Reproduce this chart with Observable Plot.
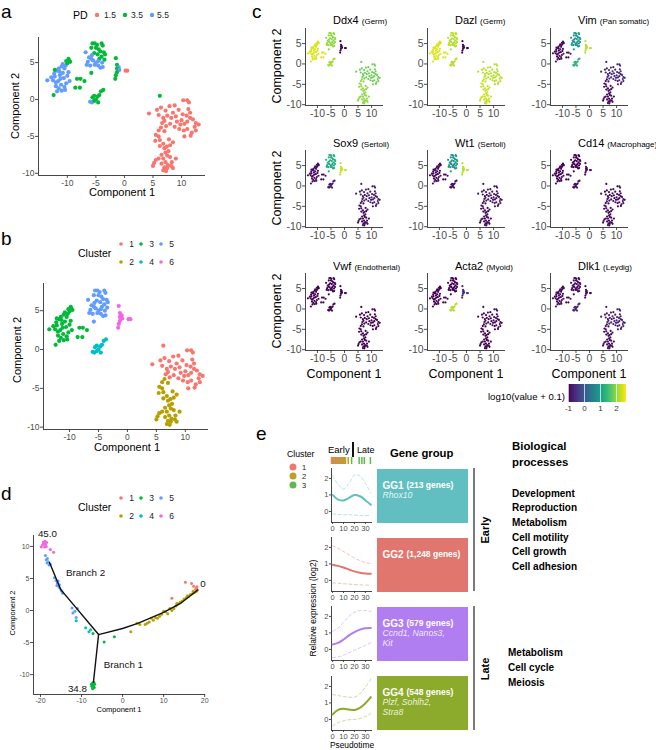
<!DOCTYPE html>
<html><head><meta charset="utf-8">
<script src="https://cdn.jsdelivr.net/npm/d3@7"></script>
<script src="https://cdn.jsdelivr.net/npm/@observablehq/plot@0.6"></script>
<style>
body{margin:0;background:#fff}
#fig{position:relative;width:656px;height:750px;overflow:hidden;font-family:"Liberation Sans",Arial,Helvetica,sans-serif;background:#fff}
</style></head>
<body><div id="fig"></div>
<script>
// ---------------- DATA ----------------
const pdLevels = [1.5, 3.5, 5.5];
const pdColors = ["#F8766D", "#00BA38", "#619CFF"];
const clusterIds = [1, 2, 3, 4, 5, 6];
const clusterColors = ["#F8766D", "#B79F00", "#00BA38", "#00BFC4", "#619CFF", "#F564E3"];

// tSNE cells per cluster: [component1, component2, PD]
const tsneC1 = [[4.3,-1.9,1.5],[5.7,-1.4,1.5],[6.4,-1.1,1.5],[7.2,-1.5,1.5],[7.9,-0.9,1.5],[8.8,-0.8,1.5],[10.3,-0.1,1.5],[11.0,-0.1,1.5],[11.3,-0.4,1.5],[6.0,-2.1,1.5],[6.8,-2.5,1.5],[7.5,-2.2,1.5],[8.5,-1.8,1.5],[9.5,-1.4,1.5],[10.2,-2.0,1.5],[10.0,-2.8,1.5],[9.2,-3.0,1.5],[8.0,-3.3,1.5],[7.3,-3.6,1.5],[6.6,-3.2,1.5],[8.8,-3.7,1.5],[9.8,-3.4,1.5],[10.5,-3.3,1.5],[11.0,-3.0,1.5],[11.5,-2.5,1.5],[12.0,-2.7,1.5],[12.5,-3.2,1.5],[13.0,-3.4,1.5],[11.2,-1.3,1.5],[11.5,-1.8,1.5],[12.3,-3.7,1.5],[11.0,-4.0,1.5],[10.4,-4.2,1.5],[11.8,-4.5,1.5],[12.5,-4.2,1.5],[9.6,-4.0,1.5],[10.5,-5.0,1.5],[11.6,-4.9,1.5],[10.9,-2.2,1.5],[9.0,-2.3,1.5],[7.0,-2.9,1.5],[8.2,-2.5,1.5],[6.2,0.5,3.5]];
const tsneC2 = [[6.0,-4.2,1.5],[6.4,-3.8,1.5],[5.5,-4.8,1.5],[7.0,-4.3,1.5],[6.0,-5.0,1.5],[5.4,-5.6,1.5],[6.2,-5.5,1.5],[6.8,-6.0,1.5],[7.0,-6.6,1.5],[7.4,-6.4,1.5],[8.0,-6.2,1.5],[8.5,-5.8,1.5],[7.7,-7.0,1.5],[7.2,-7.2,1.5],[6.5,-7.5,1.5],[7.5,-7.6,1.5],[8.0,-7.8,1.5],[6.8,-8.0,1.5],[5.5,-8.2,1.5],[5.2,-8.6,1.5],[5.0,-9.0,1.5],[6.5,-8.7,1.5],[7.2,-8.5,1.5],[8.3,-8.5,1.5],[7.0,-9.2,1.5],[6.8,-9.6,1.5],[7.5,-9.3,1.5],[8.2,-9.0,1.5],[8.5,-9.3,1.5],[9.0,-8.0,1.5],[6.2,-6.3,1.5],[7.8,-5.4,1.5],[7.6,-8.9,1.5],[6.0,-8.0,1.5],[7.3,-9.7,1.5]];
const tsneC3 = [[-13.5,2.6,5.5],[-12.8,3.0,5.5],[-12.3,3.5,5.5],[-12.0,2.3,5.5],[-11.8,3.9,5.5],[-11.5,4.2,5.5],[-11.3,3.3,5.5],[-11.0,4.5,5.5],[-10.8,4.8,5.5],[-10.5,4.2,5.5],[-11.2,2.8,5.5],[-12.0,1.8,5.5],[-11.5,1.5,5.5],[-11.0,1.2,5.5],[-10.5,1.7,5.5],[-11.8,1.1,5.5],[-10.2,2.2,5.5],[-9.6,2.5,5.5],[-10.8,3.6,5.5],[-11.6,2.5,5.5],[-12.5,2.6,5.5],[-10.0,3.2,5.5],[-10.6,2.9,5.5],[-12.2,3.1,5.5],[-11.1,2.0,5.5],[-9.8,3.7,5.5],[-10.4,1.3,5.5],[-11.4,3.8,5.5],[-10.3,4.6,5.5],[-10.2,5.2,3.5],[-9.8,5.5,3.5],[-9.5,5.1,3.5],[-10.0,4.9,3.5],[-9.7,5.3,3.5],[-12.2,4.0,3.5],[-12.4,0.6,3.5],[-8.3,2.8,3.5],[-7.7,2.8,3.5],[-7.0,2.5,3.5],[-8.6,1.6,3.5],[-7.8,1.6,3.5]];
const tsneC4 = [[-6.0,-0.3,5.5],[-5.7,-0.4,5.5],[-5.3,-0.2,3.5],[-5.0,0.0,3.5],[-4.7,0.4,3.5],[-5.6,0.3,3.5],[-4.4,0.6,3.5],[-4.1,1.1,3.5],[-3.7,1.3,3.5],[-4.6,-0.4,3.5],[-5.3,0.5,3.5]];
const tsneC5 = [[-5.6,7.6,3.5],[-5.2,7.6,3.5],[-4.8,7.4,3.5],[-4.0,7.6,3.5],[-3.8,7.3,3.5],[-5.8,7.0,3.5],[-5.0,7.0,3.5],[-4.5,6.8,3.5],[-4.2,6.5,3.5],[-3.6,6.4,3.5],[-3.4,6.1,3.5],[-4.0,5.8,3.5],[-5.3,6.3,3.5],[-4.7,6.1,3.5],[-5.8,3.6,3.5],[-4.4,5.5,3.5],[-3.5,5.4,3.5],[-6.8,6.4,5.5],[-6.2,5.7,5.5],[-5.8,5.5,5.5],[-6.4,5.1,5.5],[-5.5,5.3,5.5],[-5.0,5.0,5.5],[-6.6,4.7,5.5],[-6.0,4.6,5.5],[-4.6,4.6,5.5],[-4.2,4.3,5.5],[-3.8,4.4,5.5],[-5.2,4.7,5.5],[-3.9,5.0,5.5],[-4.6,5.2,5.5],[-5.7,6.0,5.5]];
const tsneC6 = [[-1.5,5.6,3.5],[-1.3,4.7,3.5],[-1.0,4.4,5.5],[-1.3,4.2,3.5],[-0.9,4.0,5.5],[-1.3,3.7,3.5],[-1.5,3.3,3.5],[-1.6,2.8,3.5],[0.5,3.9,1.5],[0.2,3.9,1.5]];

// panel c: marker genes, expression (log10(value+0.1)) by cluster 1..6
const geneNames = ["Ddx4", "Dazl", "Vim", "Sox9", "Wt1", "Cd14", "Vwf", "Acta2", "Dlk1"];
const geneRoles = ["(Germ)", "(Germ)", "(Pan somatic)", "(Sertoli)", "(Sertoli)", "(Macrophage)", "(Endotherial)", "(Myoid)", "(Leydig)"];
const exprDdx4  = [1.8, 2.0, 2.4, 2.1, 2.0, -1.0];
const exprDazl  = [2.2, 2.3, 2.4, 2.2, 2.2, -1.0];
const exprVim   = [-0.6, -0.9, -0.9, 1.3, 0.9, 2.2];
const exprSox9  = [-0.7, -0.9, -0.9, -0.8, 1.2, 2.3];
const exprWt1   = [-0.8, -0.9, -0.9, -0.9, 0.9, 2.2];
const exprCd14  = [-0.9, -0.9, -1.0, -0.9, -1.0, -0.9];
const exprVwf   = [-1.0, -1.0, -1.0, -1.0, -1.0, -1.0];
const exprActa2 = [-0.9, -1.0, -1.0, 2.2, -1.0, -0.6];
const exprDlk1  = [-0.7, -0.9, -0.9, -0.6, -0.9, -0.9];
const exprDomain = [-1, 2.6];
const exprTicks = [-1, 0, 1, 2];

// panel d: trajectory cells per cluster [component1, component2]
const trajC1 = [[15.3,4.4],[16.8,4.2],[17.3,3.8],[12.0,1.9],[18.0,3.5],[18.2,3.2],[17.8,3.3],[18.1,3.7],[17.9,3.0]];
const trajC2 = [[2.0,-3.3],[3.5,-2.0],[4.2,-2.2],[5.5,-2.2],[6.0,-2.0],[6.5,-1.8],[7.0,-1.2],[7.5,-1.5],[8.0,-1.1],[8.5,-1.2],[9.0,-0.9],[9.5,-0.6],[10.0,-0.1],[10.5,-0.2],[11.0,-0.5],[11.5,0.3],[12.0,0.0],[12.5,0.3],[13.0,0.7],[13.2,1.1],[13.5,1.0],[14.0,1.3],[14.5,1.5],[15.0,1.8],[15.5,2.0],[15.8,2.3],[16.0,2.2],[16.5,2.5],[17.0,2.6],[17.2,3.0],[17.5,2.8],[18.0,3.0]];
const trajC3 = [[-7.2,-3.6],[-4.5,-4.9],[-2.0,-4.1],[-7.3,-11.3],[-7.1,-11.6],[-7.5,-11.8],[-6.9,-12.0],[-7.3,-12.2],[-7.0,-11.2],[-7.6,-11.5],[-7.2,-11.9],[-6.8,-11.5]];
const trajC4 = [[-11.3,-1.6],[-9.0,-2.7],[-8.2,-3.3],[-7.8,-3.0]];
const trajC5 = [[-18.8,8.6],[-18.6,7.9],[-18.4,7.4],[-18.1,7.6],[-17.9,7.1],[-18.3,8.1],[-17.6,7.2],[-16.6,5.1],[-16.2,4.7],[-15.9,4.3],[-15.6,3.8],[-15.3,3.5],[-15.0,3.2],[-15.7,4.6],[-14.8,3.0],[-15.4,4.0],[-14.6,2.7],[-16.0,3.9],[-12.3,0.4],[-11.6,-0.1],[-12.1,-0.4],[-11.0,0.3],[-11.3,-1.1]];
const trajC6 = [[-19.5,10.2],[-19.2,10.5],[-18.8,10.3],[-19.0,9.9],[-18.6,10.0],[-19.8,9.9],[-18.5,10.6],[-17.6,9.5],[-16.8,9.1],[-19.3,10.7],[-18.9,10.8]];
const trunkPath = [[-5.85,-3.75],[0,-2.8],[3.7,-2.0],[10,-0.3],[14.1,1.1],[18.3,3.2]];
const branch1Path = [[-5.85,-3.75],[-7.1,-11.2]];
const branch2Path = [[-17.8,7.5],[-15.1,3.3],[-5.85,-3.75]];
const trajLabels = [
  {label: "45.0", x: -18.3, y: 11.9},
  {label: "0", x: 19.6, y: 4.2},
  {label: "34.8", x: -11.0, y: -12.2},
  {label: "Branch 2", x: -9.0, y: 5.8},
  {label: "Branch 1", x: 0.2, y: -8.4}
];

// panel e
const eClusterIds = [1, 2, 3];
const eClusterColors = ["#EC7A72", "#BBA12A", "#5DBB4C"];
const rugTimes    = [-1,-0.3,0.4,1.1,1.8,2.5,3.2,3.9,4.6,5.3,6.0,6.7,7.4,8.1,8.8,9.5,10.2,10.9,11.8,14.3,17.4,24.3,26.8,29.0,34.6];
const rugClusters = [1,2,1,2,2,1,2,2,1,2,2,1,2,2,2,1,2,2,2,2,3,3,3,3,3];
const pseudotime = [0, 5, 10, 15, 20, 25, 30, 35];
const gg1Mean  = [1.0, 0.72, 0.66, 0.82, 1.0, 0.92, 0.68, 0.4];
const gg1Upper = [2.15, 1.65, 1.35, 1.7, 2.2, 2.15, 1.7, 1.1];
const gg1Lower = [-0.15, -0.18, -0.2, -0.2, -0.22, -0.24, -0.25, -0.25];
const gg2Mean  = [0.95, 0.88, 0.78, 0.66, 0.55, 0.47, 0.42, 0.4];
const gg2Upper = [2.1, 1.95, 1.75, 1.55, 1.35, 1.2, 1.08, 1.02];
const gg2Lower = [-0.15, -0.17, -0.2, -0.22, -0.25, -0.27, -0.28, -0.3];
const gg3Mean  = [0.3, 0.4, 0.6, 0.85, 1.05, 1.2, 1.28, 1.3];
const gg3Upper = [1.1, 1.3, 1.65, 2.0, 2.25, 2.35, 2.35, 2.3];
const gg3Lower = [-0.5, -0.45, -0.35, -0.2, -0.05, 0.1, 0.25, 0.4];
const gg4Mean  = [0.3, 0.58, 0.65, 0.6, 0.57, 0.7, 0.98, 1.35];
const gg4Upper = [1.5, 1.45, 1.38, 1.35, 1.35, 1.55, 1.95, 2.45];
const gg4Lower = [-0.4, -0.2, -0.08, -0.02, 0.0, 0.05, 0.18, 0.35];
const groupNames  = ["GG1", "GG2", "GG3", "GG4"];
const groupCounts = ["(213 genes)", "(1,248 genes)", "(579 genes)", "(548 genes)"];
const groupGenes  = ["Rhox10", "", "Ccnd1, Nanos3,\nKit", "Plzf, Sohlh2,\nStra8"];
const groupColors = ["#62BFC1", "#E0766D", "#B07EF1", "#8CAA2C"];
const processesEarly = ["Development", "Reproduction", "Metabolism", "Cell motility", "Cell growth", "Cell adhesion"];
const processesLate = ["Metabolism", "Cell cycle", "Meiosis"];

// ---------------- HELPERS ----------------
const FONT = '"Liberation Sans", Arial, Helvetica, sans-serif';
const fig = document.getElementById("fig");
function put(node, left, top) {
  node.style.position = "absolute";
  node.style.left = left + "px";
  node.style.top = top + "px";
  fig.appendChild(node);
  return node;
}
function xyPlot({w, h, ml, mt, mr, mb, xDom, yDom, xTicks, yTicks, fs, tick = 3, color, marks}) {
  return Plot.plot({
    width: w, height: h, marginLeft: ml, marginTop: mt, marginRight: mr, marginBottom: mb,
    style: {fontFamily: FONT, fontSize: fs + "px", color: "#4d4d4d", background: "transparent", overflow: "visible"},
    x: {domain: xDom, ticks: xTicks, tickSize: tick, tickPadding: 1, tickFormat: d => String(d), label: null},
    y: {domain: yDom, ticks: yTicks, tickSize: tick, tickPadding: 1, tickFormat: d => String(d), label: null},
    color,
    marks: [
      Plot.ruleX([xDom[0]], {stroke: "#333", strokeWidth: 0.9}),
      Plot.ruleY([yDom[0]], {stroke: "#333", strokeWidth: 0.9}),
      ...marks
    ]
  });
}

const cells = [tsneC1, tsneC2, tsneC3, tsneC4, tsneC5, tsneC6]
  .flatMap((set, i) => set.map(([x, y, pd]) => ({x, y, pd, cluster: clusterIds[i]})));

// ---------------- PANEL a ----------------
put(xyPlot({
  w: 212, h: 170, ml: 38, mt: 7, mr: 7, mb: 25,
  xDom: [-15.05, 14.2], yDom: [-10.3, 8.4], xTicks: [-10, -5, 0, 5, 10], yTicks: [-10, -5, 0, 5], fs: 8.5,
  color: {type: "ordinal", domain: pdLevels, range: pdColors},
  marks: [Plot.dot(cells, {x: "x", y: "y", fill: "pd", r: 2.1, stroke: null})]
}), 0, 30);

// ---------------- PANEL b ----------------
put(xyPlot({
  w: 212, h: 175, ml: 43, mt: 13, mr: 4, mb: 16,
  xDom: [-14.5, 14.0], yDom: [-10.3, 8.5], xTicks: [-10, -5, 0, 5, 10], yTicks: [-10, -5, 0, 5], fs: 8.5,
  color: {type: "ordinal", domain: clusterIds, range: clusterColors},
  marks: [Plot.dot(cells, {x: "x", y: "y", fill: "cluster", r: 2.1, stroke: null})]
}), 0, 270);

// ---------------- PANEL c ----------------
const geneExprs = [exprDdx4, exprDazl, exprVim, exprSox9, exprWt1, exprCd14, exprVwf, exprActa2, exprDlk1];
const colX = [305, 427, 550];
const rowTop = [28, 150, 273];
geneNames.forEach((g, i) => {
  const col = i % 3, row = Math.floor(i / 3);
  const data = cells.map(c => ({x: c.x, y: c.y, e: geneExprs[i][c.cluster - 1]})).sort((a, b) => a.e - b.e);
  put(xyPlot({
    w: 120, h: 95, ml: 38, mt: 2, mr: 4, mb: 16,
    xDom: [-14.4, 14.4], yDom: [-10.2, 8.7], xTicks: [-10, -5, 0, 5, 10], yTicks: [-10, -5, 0, 5], fs: 10.4,
    color: {type: "linear", scheme: "viridis", domain: exprDomain},
    marks: [Plot.dot(data, {x: "x", y: "y", fill: "e", r: 1.1, stroke: null})]
  }), colX[col] - 38, rowTop[row] - 2);
});
const cbar = Plot.legend({
  color: {type: "linear", scheme: "viridis", domain: exprDomain},
  ticks: exprTicks, tickFormat: d => String(d), label: null,
  width: 60, height: 30, marginTop: 0, marginBottom: 12, marginLeft: 1, marginRight: 1, tickSize: 0,
  style: {fontFamily: FONT, fontSize: "8px", color: "#333", background: "transparent", overflow: "visible"}
});
put(cbar, 567, 384);
cbar.querySelectorAll(".tick line").forEach(l => { l.setAttribute("stroke", "#fff"); l.setAttribute("stroke-opacity", "0.7"); });

// ---------------- PANEL d ----------------
const trajCells = [trajC1, trajC2, trajC3, trajC4, trajC5, trajC6]
  .flatMap((set, i) => set.map(([x, y]) => ({x, y, cluster: clusterIds[i]})));
put(xyPlot({
  w: 212, h: 195, ml: 33, mt: 15, mr: 7, mb: 21,
  xDom: [-21.7, 20.2], yDom: [-13.1, 11.7], xTicks: [-20, -10, 0, 10, 20], yTicks: [-10, -5, 0, 5, 10], fs: 7,
  color: {type: "ordinal", domain: clusterIds, range: clusterColors},
  marks: [
    Plot.dot(trajCells, {x: "x", y: "y", fill: "cluster", r: 1.5, stroke: null}),
    ...[trunkPath, branch1Path, branch2Path].map(p => Plot.line(p, {x: d => d[0], y: d => d[1], stroke: "#111", strokeWidth: 1.4})),
    Plot.text(trajLabels, {x: "x", y: "y", text: "label", fontSize: 9.8, fill: "#111"})
  ]
}), 0, 520);

// ---------------- PANEL e ----------------
const ggMeans = [gg1Mean, gg2Mean, gg3Mean, gg4Mean];
const ggUppers = [gg1Upper, gg2Upper, gg3Upper, gg4Upper];
const ggLowers = [gg1Lower, gg2Lower, gg3Lower, gg4Lower];
const eRowTop = [468, 537, 606, 676];
groupNames.forEach((g, r) => {
  const rows = pseudotime.map((t, j) => ({t, m: ggMeans[r][j], u: ggUppers[r][j], l: ggLowers[r][j]}));
  const col = groupColors[r];
  put(xyPlot({
    w: 59, h: 72, ml: 14, mt: 4, mr: 4, mb: 14,
    xDom: [-1, 36.5], yDom: [-0.67, 2.6], xTicks: [0, 10, 20, 30], yTicks: [0, 1, 2], fs: 7.5, tick: 2,
    marks: [
      Plot.line(rows, {x: "t", y: "u", stroke: col, strokeOpacity: 0.45, strokeWidth: 1, strokeDasharray: "3,2.5", curve: "catmull-rom"}),
      Plot.line(rows, {x: "t", y: "l", stroke: col, strokeOpacity: 0.45, strokeWidth: 1, strokeDasharray: "3,2.5", curve: "catmull-rom"}),
      Plot.line(rows, {x: "t", y: "m", stroke: col, strokeWidth: 2, curve: "catmull-rom"})
    ]
  }), 317, eRowTop[r] - 4);
});
// rug of cells along pseudotime
const rugData = rugTimes.map((t, i) => ({t, c: rugClusters[i]}));
put(Plot.plot({
  width: 59, height: 7, marginLeft: 14, marginRight: 4, marginTop: 0, marginBottom: 0,
  style: {background: "transparent", overflow: "visible"},
  x: {domain: [-1, 36.5], axis: null},
  color: {type: "ordinal", domain: eClusterIds, range: eClusterColors},
  marks: [Plot.tickX(rugData, {x: "t", stroke: "c", strokeWidth: 1.5})]
}), 317, 457);
// gene group boxes
const groups = groupNames.map((n, i) => ({name: n, count: groupCounts[i], genes: groupGenes[i], color: groupColors[i]}));
put(Plot.plot({
  width: 91, height: 310, marginLeft: 0, marginRight: 0, marginTop: 20.5, marginBottom: 12.5,
  style: {fontFamily: FONT, background: "transparent", overflow: "visible"},
  y: {type: "band", domain: groupNames, paddingInner: 15 / 69, paddingOuter: 7.5 / 69, axis: null},
  color: {type: "identity"},
  marks: [
    Plot.cell(groups, {y: "name", fill: "color", inset: 0}),
    Plot.text(groups, {y: "name", text: "name", frameAnchor: "left", textAnchor: "start", dx: 5, dy: -11, fill: "white", fontWeight: "bold", fontSize: 10}),
    Plot.text(groups, {y: "name", text: "count", frameAnchor: "left", textAnchor: "start", dx: 29, dy: -11, fill: "white", fontWeight: "bold", fontSize: 8.5}),
    Plot.text(groups, {y: "name", text: "genes", frameAnchor: "left", textAnchor: "start", lineAnchor: "top", lineHeight: 1.15, dx: 5, dy: -5.5, fill: "white", fillOpacity: 0.85, fontStyle: "italic", fontSize: 8.7})
  ]
}), 377, 440);

// ---------------- TEXT OVERLAY ----------------
const ov = d3.create("svg").attr("width", 656).attr("height", 750)
  .style("position", "absolute").style("left", "0px").style("top", "0px").style("font-family", FONT).style("pointer-events", "none");
fig.appendChild(ov.node());
function T(str, x, y, o = {}) {
  const s = o.size || 10;
  const t = ov.append("text").attr("font-size", s).attr("fill", o.color || "#000").attr("text-anchor", o.anchor || "start");
  if (o.weight) t.attr("font-weight", o.weight);
  if (o.italic) t.attr("font-style", "italic");
  if (o.rotate) {
    const bx = x + 0.36 * s;
    t.attr("x", bx).attr("y", y).attr("transform", `rotate(-90 ${bx} ${y})`);
  } else {
    t.attr("x", x).attr("y", y + 0.36 * s);
  }
  t.text(str);
  return t;
}
function dot(x, y, r, c) { ov.append("circle").attr("cx", x).attr("cy", y).attr("r", r).attr("fill", c); }

// panel letters
T("a", 1, 11, {size: 19});
T("b", 1, 238, {size: 19});
T("c", 252, 11, {size: 19});
T("d", 1, 493, {size: 19});
T("e", 256, 433, {size: 19});

// panel a legend & titles
T("PD", 73, 15, {size: 10.6});
pdLevels.forEach((v, i) => { dot([97, 125, 152][i], 15, 2.2, pdColors[i]); T(String(v), [110, 137, 163][i], 15, {size: 8.5, anchor: "middle", color: "#222"}); });
T("Component 1", 122, 192, {size: 11, anchor: "middle"});
T("Component 2", 15, 106, {size: 11, anchor: "middle", rotate: true});

// cluster legends (b, d)
function clusterLegend(y0) {
  T("Cluster", 78, y0 + 9, {size: 10.5});
  const xs = [121, 141, 161];
  clusterIds.forEach((c, i) => {
    const col = Math.floor(i / 2), row = i % 2;
    const y = y0 + row * 18;
    dot(xs[col], y, 1.8, clusterColors[i]);
    T(String(c), xs[col] + 10.5, y, {size: 8.5, anchor: "middle", color: "#222"});
  });
}
clusterLegend(244);
T("Component 1", 127, 447, {size: 11, anchor: "middle"});
T("Component 2", 17, 350, {size: 11, anchor: "middle", rotate: true});

// panel c titles
geneNames.forEach((g, i) => {
  const col = i % 3, row = Math.floor(i / 3);
  const t = ov.append("text").attr("x", colX[col] + 28).attr("y", [20, 143, 266][row] + 4).attr("font-size", 11);
  t.append("tspan").text(g + " ");
  t.append("tspan").attr("font-size", 8).text(geneRoles[i]);
});
[0, 1, 2].forEach(r => T("Component 2", 276, rowTop[r] + 38, {size: 12.5, anchor: "middle", rotate: true}));
[0, 1, 2].forEach(c => T("Component 1", colX[c] + 39, 373, {size: 12.5, anchor: "middle"}));
T("log10(value + 0.1)", 565, 397, {size: 9.6, anchor: "end"});

// panel d
clusterLegend(498);
T("Component 1", 119, 709, {size: 7.5, anchor: "middle"});
T("Component 2", 12, 613, {size: 7.5, anchor: "middle", rotate: true});

// panel e
T("Cluster", 287, 454, {size: 8.7});
eClusterIds.forEach((c, i) => { dot(293, [467, 476, 485][i], 3.5, eClusterColors[i]); T(String(c), 302, [467, 476, 485][i], {size: 7.5, color: "#222"}); });
T("Early", 328, 450, {size: 9.5});
ov.append("line").attr("x1", 353).attr("x2", 353).attr("y1", 442).attr("y2", 457).attr("stroke", "#111").attr("stroke-width", 2);
T("Late", 357, 450, {size: 9});
T("Relative expression (log2)", 313, 608, {size: 8.4, anchor: "middle", rotate: true});
T("Pseudotime", 352, 745, {size: 8.4, anchor: "middle"});
T("Gene group", 390, 453, {size: 11.3, weight: "bold"});
ov.append("line").attr("x1", 474).attr("x2", 474).attr("y1", 468).attr("y2", 591).attr("stroke", "#222").attr("stroke-width", 1.2);
ov.append("line").attr("x1", 474).attr("x2", 474).attr("y1", 606).attr("y2", 730).attr("stroke", "#222").attr("stroke-width", 1.2);
T("Early", 485, 530, {size: 11, weight: "bold", anchor: "middle", rotate: true});
T("Late", 485, 669, {size: 11, weight: "bold", anchor: "middle", rotate: true});
T("Biological", 512, 446, {size: 11.4, weight: "bold"});
T("processes", 512, 462, {size: 11.4, weight: "bold"});
processesEarly.forEach((p, i) => T(p, 512, 493 + i * 14.7, {size: 10, weight: "bold"}));
processesLate.forEach((p, i) => T(p, 508, 652 + i * 15, {size: 10, weight: "bold"}));
</script>
</body></html>
